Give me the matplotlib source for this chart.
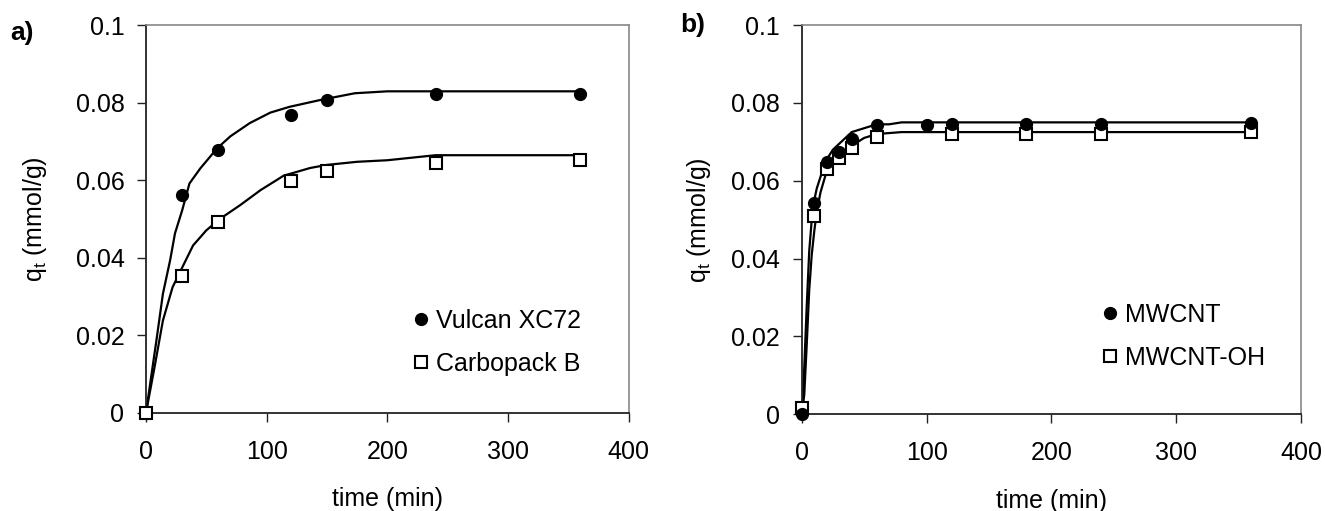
import matplotlib
matplotlib.use('Agg')
import matplotlib.pyplot as plt

plt.rcParams['font.family'] = ['Liberation Sans', 'DejaVu Sans']
plt.rcParams['mathtext.fontset'] = 'custom'
plt.rcParams['mathtext.rm'] = 'Liberation Sans'
plt.rcParams['mathtext.it'] = 'Liberation Sans'

# panel a) measured points
t_a = [0, 30, 60, 120, 150, 240, 360]
vulcan_q = [0, 0.0562, 0.0679, 0.0770, 0.0807, 0.0822, 0.0822]
carbo_q = [0, 0.0352, 0.0493, 0.0598, 0.0625, 0.0646, 0.0652]

# panel a) model curves
vulcan_fit_t = [0, 9, 14, 20, 24, 30, 36, 45, 59, 70, 86, 103, 119, 145, 173, 200, 360]
vulcan_fit_q = [0, 0.0195, 0.0307, 0.0394, 0.0463, 0.0523, 0.0592, 0.0631, 0.0683,
                0.0714, 0.0748, 0.0775, 0.0790, 0.0808, 0.0825, 0.0830, 0.0830]
carbo_fit_t = [0, 7.5, 14, 22, 30, 39, 50, 61, 78, 95, 114, 136, 150, 175, 200, 240, 360]
carbo_fit_q = [0, 0.0125, 0.0238, 0.0324, 0.0375, 0.0432, 0.0471, 0.0500, 0.0536,
               0.0575, 0.0612, 0.0632, 0.0640, 0.0648, 0.0652, 0.0665, 0.0665]

# panel b) measured points
t_mw = [0, 10, 20, 30, 40, 60, 100, 120, 180, 240, 360]
mwcnt_q = [0, 0.0544, 0.0648, 0.0674, 0.0706, 0.0744, 0.0742, 0.0747, 0.0747, 0.0747, 0.0749]
t_oh = [0, 10, 20, 30, 40, 60, 120, 180, 240, 360]
mwcnt_oh_q = [0.0017, 0.0510, 0.0630, 0.0658, 0.0684, 0.0712, 0.0721, 0.0721, 0.0721, 0.0725]

# panel b) model curves
mw_fit_t = [0, 2, 4, 6, 8, 10, 12, 15, 20, 25, 30, 40, 50, 60, 70, 80, 100, 360]
mw_fit_q = [0, 0.012, 0.028, 0.042, 0.050, 0.055, 0.058, 0.061, 0.0655, 0.068, 0.0695,
            0.0725, 0.0735, 0.0745, 0.0745, 0.075, 0.075, 0.075]
oh_fit_t = [0, 2, 4, 6, 8, 10, 12, 15, 20, 30, 40, 50, 60, 80, 360]
oh_fit_q = [0, 0.005, 0.018, 0.032, 0.041, 0.047, 0.052, 0.057, 0.0625, 0.066, 0.069,
            0.071, 0.072, 0.0725, 0.0725]

fs = 18


def style_axes(ax):
    ax.set_xlim(0, 400)
    ax.set_ylim(0, 0.1)
    ax.set_xticks([0, 100, 200, 300, 400])
    ax.set_yticks([0, 0.02, 0.04, 0.06, 0.08, 0.1])
    ax.set_yticklabels(['0', '0.02', '0.04', '0.06', '0.08', '0.1'])
    ax.tick_params(direction='out', length=6.5, width=1, labelsize=fs, colors='#222222',
                   labelcolor='black')
    ax.tick_params(axis='y', pad=9)
    ax.tick_params(axis='x', pad=13)
    ax.spines['left'].set_color('#222222')
    ax.spines['bottom'].set_color('#222222')
    ax.spines['left'].set_linewidth(1.3)
    ax.spines['bottom'].set_linewidth(1.3)
    for s in ['top', 'right']:
        ax.spines[s].set_color('#888888')
        ax.spines[s].set_linewidth(1.2)
    ax.set_xlabel('time (min)', fontsize=fs, labelpad=17)
    ax.set_ylabel(r'q$_\mathregular{t}$ (mmol/g)', fontsize=fs)


circle_kw = dict(linestyle='none', marker='o', markersize=8.5, color='black', zorder=3,
                 clip_on=False)
square_kw = dict(linestyle='none', marker='s', markersize=8, markerfacecolor='white',
                 markeredgecolor='black', markeredgewidth=1.5, zorder=3, clip_on=False)

fig = plt.figure(figsize=(13.25, 5.11), dpi=100)

ax1 = fig.add_axes([0.1102, 0.1924, 0.3643, 0.7577])
ax1.plot(vulcan_fit_t, vulcan_fit_q, color='black', lw=1.6, zorder=2)
ax1.plot(carbo_fit_t, carbo_fit_q, color='black', lw=1.6, zorder=2)
ax1.plot(t_a, vulcan_q, label='Vulcan XC72', **circle_kw)
ax1.plot(t_a, carbo_q, label='Carbopack B', **square_kw)
style_axes(ax1)
ax1.yaxis.set_label_coords(-0.2, 0.5)
ax1.legend(loc='center left', bbox_to_anchor=(0.550, 0.181), frameon=False, fontsize=fs,
           borderpad=0, borderaxespad=0, handlelength=0.8, handletextpad=0.2,
           labelspacing=0.75)

ax2 = fig.add_axes([0.6051, 0.1892, 0.3768, 0.7618])
ax2.plot(mw_fit_t, mw_fit_q, color='black', lw=1.6, zorder=2)
ax2.plot(oh_fit_t, oh_fit_q, color='black', lw=1.6, zorder=2)
sq = ax2.plot(t_oh, mwcnt_oh_q, label='MWCNT-OH', **square_kw)
ci = ax2.plot(t_mw, mwcnt_q, label='MWCNT', **circle_kw)
style_axes(ax2)
ax2.yaxis.set_label_coords(-0.178, 0.5)
ax2.legend(handles=[ci[0], sq[0]], loc='center left', bbox_to_anchor=(0.5966, 0.200),
           frameon=False, fontsize=fs, borderpad=0, borderaxespad=0, handlelength=0.8,
           handletextpad=0.2, labelspacing=0.75)

fig.text(10 / 1325, 1 - 33 / 511, 'a)', fontsize=19, fontweight='bold', va='center')
fig.text(680 / 1325, 1 - 25 / 511, 'b)', fontsize=19, fontweight='bold', va='center')

fig.savefig('out.png', dpi=100)
